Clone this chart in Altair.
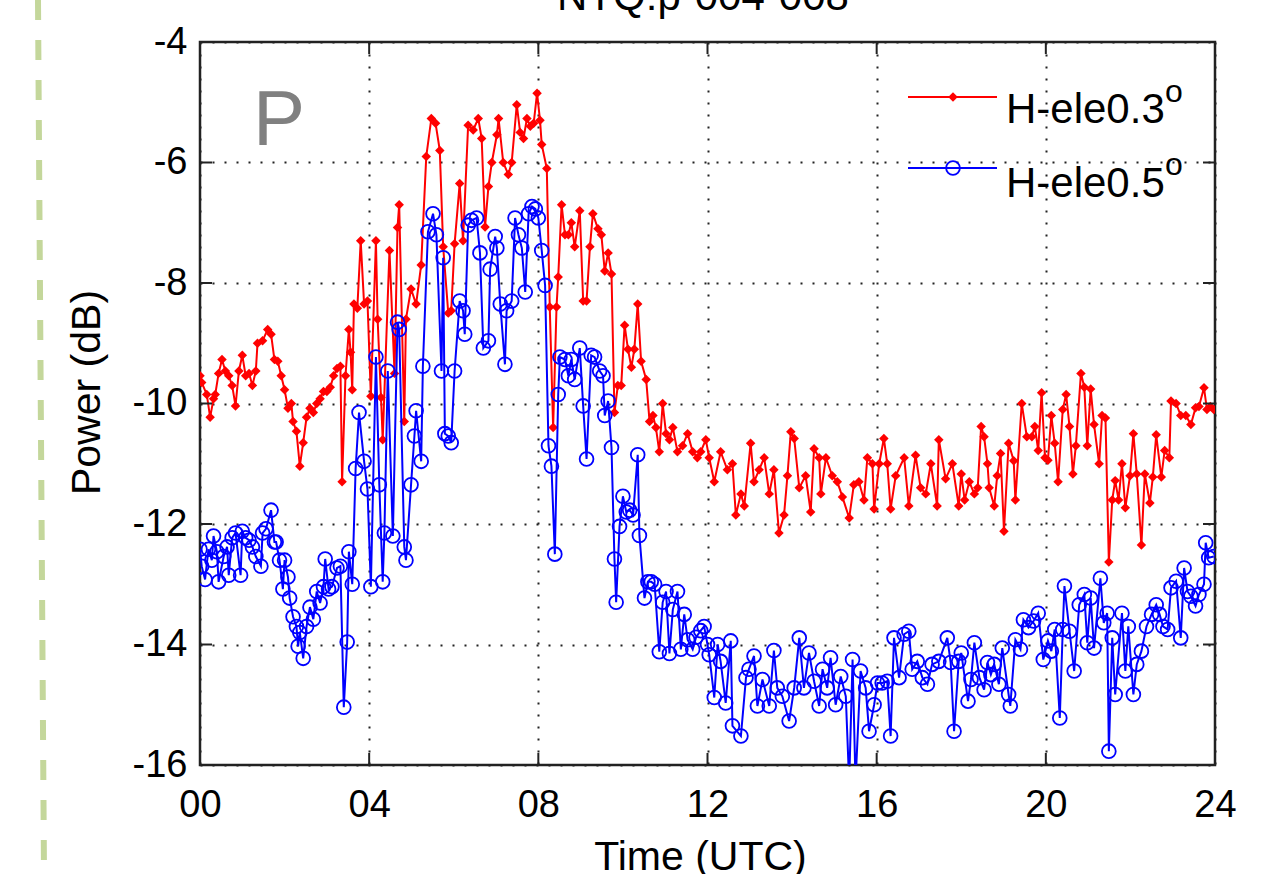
import altair as alt
import pandas as pd

# ---------------- data (hour UTC, power dB) ----------------
red_points = [
    (0.0, -9.54), (0.04, -9.65), (0.16, -9.85), (0.24, -10.23), (0.32, -9.92), (0.36, -9.85), (0.44, -9.5),
    (0.52, -9.27), (0.6, -9.46), (0.68, -9.54), (0.76, -9.7), (0.84, -10.04), (0.92, -9.46), (1.0, -9.2),
    (1.08, -9.54), (1.16, -9.5), (1.24, -9.7), (1.32, -9.46), (1.36, -9.0), (1.48, -8.96), (1.6, -8.77),
    (1.68, -8.85), (1.76, -9.27), (1.84, -9.3), (1.92, -9.54), (2.0, -9.77), (2.08, -10.08), (2.16, -10.0),
    (2.2, -10.3), (2.28, -10.46), (2.36, -11.04), (2.44, -10.65), (2.52, -10.23), (2.6, -10.08), (2.68, -10.15),
    (2.76, -10.0), (2.84, -9.92), (2.92, -9.8), (3.0, -9.8), (3.08, -9.73), (3.16, -9.54), (3.24, -9.42),
    (3.32, -9.38), (3.36, -11.3), (3.44, -9.54), (3.52, -8.77), (3.56, -9.15), (3.6, -9.77), (3.64, -8.35),
    (3.72, -8.42), (3.8, -7.3), (3.88, -8.35), (3.96, -8.3), (4.04, -9.88),
    (4.16, -7.3), (4.2, -8.6), (4.28, -9.9), (4.32, -10.6), (4.48, -7.46), (4.6, -9.5), (4.67, -7.08),
    (4.71, -6.7), (4.83, -10.3), (4.87, -8.6), (4.99, -8.1), (5.11, -8.35), (5.23, -7.7), (5.35, -5.9),
    (5.47, -5.27), (5.57, -5.35), (5.67, -5.8), (5.75, -7.4), (5.87, -8.5), (5.94, -8.46), (6.02, -7.35),
    (6.14, -6.35), (6.22, -7.3), (6.34, -5.38), (6.46, -5.46), (6.58, -5.27), (6.66, -5.6), (6.74, -7.07),
    (6.82, -6.4), (6.9, -6.0), (7.02, -5.54), (7.06, -5.27), (7.17, -6.0), (7.29, -6.2), (7.37, -6.0),
    (7.49, -5.04), (7.57, -5.5), (7.65, -5.6), (7.73, -5.27), (7.81, -5.4), (7.89, -5.35), (7.97, -4.85),
    (8.04, -5.3), (8.08, -5.7), (8.2, -6.1), (8.27, -8.4), (8.35, -10.4), (8.43, -8.4), (8.47, -7.9),
    (8.55, -6.7), (8.63, -7.2), (8.71, -7.2), (8.78, -7.0), (8.86, -7.4), (8.98, -6.8), (9.06, -8.3),
    (9.14, -8.3), (9.22, -7.4), (9.29, -6.85), (9.41, -7.1), (9.49, -7.2), (9.57, -7.8), (9.65, -7.5),
    (9.73, -7.85), (9.8, -10.15), (9.88, -9.7), (9.96, -9.7), (10.04, -8.7), (10.12, -9.1), (10.2, -9.4),
    (10.27, -9.1), (10.35, -8.35), (10.43, -9.3), (10.55, -9.6), (10.63, -10.3), (10.71, -10.2), (10.78, -10.4),
    (10.86, -10.8), (10.94, -10.0), (11.02, -10.5), (11.1, -10.6), (11.18, -10.4), (11.29, -10.8), (11.41, -10.7),
    (11.53, -10.5), (11.65, -10.8), (11.76, -10.9), (11.84, -10.8), (11.96, -10.6),
    (12.04, -10.9), (12.16, -11.3), (12.31, -10.8), (12.47, -11.1), (12.59, -11.0), (12.67, -11.85), (12.79, -11.5),
    (12.87, -11.7), (13.02, -10.66), (13.1, -11.3), (13.22, -11.1), (13.34, -10.9), (13.46, -11.5), (13.57, -11.1),
    (13.69, -12.15), (13.81, -11.85), (13.89, -11.2), (13.97, -10.47), (14.05, -10.58), (14.17, -11.4), (14.32, -11.2),
    (14.44, -11.8), (14.52, -10.75), (14.64, -10.9), (14.68, -11.5), (14.8, -10.9), (14.95, -11.2), (15.07, -11.3),
    (15.19, -11.55), (15.35, -11.9), (15.46, -11.35), (15.58, -11.3), (15.7, -11.6), (15.78, -10.9), (15.9, -11.0),
    (15.94, -11.75), (16.06, -11.0), (16.17, -10.58), (16.25, -11.0), (16.33, -11.75), (16.45, -11.2), (16.65, -10.9),
    (16.76, -11.7), (16.92, -10.86), (17.04, -11.4), (17.16, -11.5), (17.28, -11.0), (17.43, -11.7), (17.47, -10.6),
    (17.63, -11.25), (17.79, -11.0), (17.94, -11.7),
    (18.0, -11.17), (18.08, -11.6), (18.19, -11.3), (18.31, -11.5), (18.39, -11.4), (18.47, -10.38), (18.54, -10.55),
    (18.62, -11.0), (18.66, -11.4), (18.78, -11.7), (18.85, -11.2), (18.93, -10.83), (19.01, -12.12), (19.12, -10.66),
    (19.24, -10.95), (19.28, -11.6), (19.43, -10.0), (19.55, -10.55), (19.67, -10.55), (19.74, -10.38), (19.82, -10.78),
    (19.9, -9.82), (19.98, -10.9), (20.05, -10.94), (20.13, -10.2), (20.21, -10.66), (20.29, -11.3), (20.4, -10.1),
    (20.48, -9.85), (20.56, -10.38), (20.64, -11.17), (20.71, -10.7), (20.83, -9.5), (20.91, -9.73), (20.98, -10.7),
    (21.06, -9.76), (21.14, -10.35), (21.26, -11.0), (21.33, -10.2), (21.41, -10.24), (21.49, -12.63), (21.57, -11.6),
    (21.64, -11.28), (21.72, -11.6), (21.8, -11.0), (21.88, -11.73), (21.99, -11.2), (22.07, -10.5), (22.15, -11.17),
    (22.26, -12.35), (22.34, -11.17), (22.46, -11.65), (22.53, -11.22), (22.61, -10.52), (22.73, -11.22), (22.81, -10.78),
    (22.92, -10.9), (22.96, -9.96), (23.08, -10.0), (23.19, -10.2), (23.31, -10.2), (23.43, -10.35), (23.54, -10.07),
    (23.62, -10.05), (23.74, -9.74), (23.81, -10.1), (23.89, -10.05), (23.97, -10.1),
]

blue_points = [
    (0.0, -12.42), (0.04, -12.7), (0.12, -12.92), (0.2, -12.42), (0.28, -12.6), (0.32, -12.2), (0.4, -12.46),
    (0.44, -12.96), (0.56, -12.54), (0.64, -12.38), (0.68, -12.85), (0.76, -12.23), (0.84, -12.15), (0.96, -12.85),
    (1.0, -12.12), (1.08, -12.23), (1.16, -12.27), (1.24, -12.38), (1.32, -12.54), (1.44, -12.7), (1.48, -12.15),
    (1.56, -12.08), (1.68, -11.77), (1.76, -12.3), (1.8, -12.3), (1.88, -12.6), (1.96, -13.08), (2.0, -12.6),
    (2.08, -12.88), (2.12, -13.23), (2.2, -13.54), (2.28, -13.7), (2.32, -14.03), (2.36, -13.8), (2.44, -14.23),
    (2.52, -13.7), (2.6, -13.38), (2.68, -13.58), (2.76, -13.12), (2.84, -13.31), (2.92, -13.04), (2.96, -12.58),
    (3.04, -13.08), (3.12, -13.04), (3.24, -12.73), (3.32, -12.7), (3.4, -15.04), (3.48, -13.96), (3.52, -12.46),
    (3.6, -13.0), (3.68, -11.08), (3.76, -10.15), (3.88, -10.96), (3.96, -11.42), (4.04, -13.04),
    (4.16, -9.23), (4.24, -11.35), (4.32, -12.96), (4.36, -12.15), (4.44, -9.46), (4.56, -12.2), (4.67, -8.65),
    (4.71, -8.77), (4.83, -12.38), (4.87, -12.6), (4.99, -11.35), (5.07, -10.54), (5.11, -10.12), (5.23, -10.96),
    (5.27, -9.38), (5.39, -7.15), (5.51, -6.85), (5.59, -7.2), (5.71, -9.46), (5.75, -7.58), (5.79, -10.5),
    (5.87, -10.54), (5.94, -10.65), (6.02, -9.46), (6.14, -8.3), (6.22, -8.46), (6.26, -8.85), (6.34, -7.04),
    (6.42, -6.96), (6.54, -6.92), (6.62, -7.5), (6.7, -9.08), (6.82, -8.96), (6.86, -7.77), (6.98, -7.23),
    (7.02, -7.42), (7.1, -8.35), (7.21, -9.35), (7.25, -8.46), (7.37, -8.3), (7.45, -6.92), (7.53, -7.2),
    (7.61, -7.42), (7.69, -8.15), (7.77, -6.85), (7.85, -6.73), (7.93, -6.77), (8.0, -6.92),
    (8.08, -7.46), (8.16, -8.04), (8.24, -10.7), (8.31, -11.04), (8.39, -12.5), (8.47, -9.85), (8.51, -9.23),
    (8.63, -9.27), (8.71, -9.54), (8.78, -9.27), (8.86, -9.6), (8.98, -9.08), (9.06, -10.04), (9.14, -10.92),
    (9.25, -9.2), (9.33, -9.23), (9.45, -9.46), (9.53, -9.54), (9.57, -10.2), (9.65, -9.96), (9.73, -10.73),
    (9.8, -12.58), (9.84, -13.3), (9.92, -12.04), (10.0, -11.54), (10.08, -11.8), (10.16, -11.77), (10.24, -11.85),
    (10.35, -10.85), (10.39, -12.19), (10.51, -13.23), (10.59, -12.96), (10.67, -12.96), (10.75, -13.0), (10.86, -14.12),
    (10.94, -13.3), (11.02, -13.12), (11.1, -14.15), (11.18, -13.42), (11.29, -13.12), (11.37, -14.08), (11.45, -13.5),
    (11.53, -13.92), (11.65, -14.08), (11.73, -13.88), (11.84, -13.77), (11.92, -13.7), (12.0, -14.0),
    (12.04, -14.17), (12.16, -14.88), (12.24, -14.0), (12.31, -14.28), (12.43, -14.97), (12.55, -13.94), (12.59, -15.35),
    (12.79, -15.52), (12.91, -14.55), (12.98, -14.41), (13.1, -14.19), (13.18, -15.02), (13.3, -14.58), (13.46, -15.02),
    (13.57, -14.1), (13.65, -14.72), (13.77, -14.86), (13.93, -15.27), (14.05, -14.72), (14.17, -13.89), (14.28, -14.72),
    (14.4, -14.14), (14.52, -14.61), (14.64, -15.02), (14.72, -14.41), (14.83, -14.72), (14.91, -14.22), (15.03, -15.0),
    (15.15, -14.53), (15.27, -14.86), (15.35, -16.3), (15.43, -14.25), (15.5, -16.3), (15.62, -14.44), (15.74, -14.72),
    (15.82, -15.44), (15.94, -15.0), (16.02, -14.64), (16.13, -14.64), (16.25, -14.61), (16.33, -15.52), (16.41, -13.89),
    (16.53, -14.55), (16.65, -13.83), (16.76, -13.78), (16.84, -14.41), (16.96, -14.28), (17.08, -14.55), (17.2, -14.66),
    (17.31, -14.33), (17.47, -14.28), (17.67, -13.89), (17.75, -14.3), (17.83, -15.44), (17.94, -14.28),
    (18.0, -14.14), (18.16, -14.94), (18.23, -14.58), (18.31, -13.97), (18.43, -14.55), (18.54, -14.75), (18.62, -14.3),
    (18.7, -14.5), (18.78, -14.33), (18.89, -14.66), (18.97, -14.06), (19.12, -14.83), (19.16, -15.02), (19.28, -13.92),
    (19.4, -14.08), (19.47, -13.59), (19.59, -13.72), (19.71, -13.61), (19.82, -13.48), (19.94, -14.25), (20.05, -13.94),
    (20.13, -14.11), (20.21, -13.75), (20.33, -15.22), (20.4, -13.75), (20.44, -13.03), (20.56, -13.78), (20.67, -14.44),
    (20.79, -13.34), (20.91, -13.17), (20.98, -13.97), (21.06, -13.23), (21.14, -14.06), (21.29, -12.9), (21.37, -13.64),
    (21.45, -13.48), (21.49, -15.77), (21.57, -13.89), (21.64, -14.83), (21.8, -13.48), (21.88, -14.44), (21.95, -13.7),
    (22.07, -14.83), (22.15, -14.33), (22.26, -14.11), (22.38, -13.7), (22.5, -13.5), (22.61, -13.34), (22.69, -13.5),
    (22.77, -13.7), (22.88, -13.75), (22.96, -13.06), (23.08, -12.95), (23.19, -13.89), (23.27, -12.73), (23.35, -13.12),
    (23.43, -13.2), (23.54, -13.36), (23.62, -13.17), (23.74, -13.0), (23.78, -12.31), (23.85, -12.56), (23.97, -12.54),
]

x_ticks = [0, 4, 8, 12, 16, 20, 24]
y_ticks = [-16, -14, -12, -10, -8, -6, -4]
series_names = ["H-ele0.3", "H-ele0.5"]
chart_title = "NTQ:p-004-008"
panel_letter = "P"

# ---------------- build ----------------
red = pd.DataFrame(red_points, columns=["hour", "power"])
blue = pd.DataFrame(blue_points, columns=["hour", "power"])
xt = pd.DataFrame({"hour": x_ticks})
yt = pd.DataFrame({"power": y_ticks})
one = pd.DataFrame({"k": [0]})

W, H = 1015, 723
FONT = "Liberation Sans"
xscale = alt.Scale(domain=[0, 24], nice=False, zero=False)
yscale = alt.Scale(domain=[-16, -4], nice=False, zero=False)

x_axis = alt.Axis(
    values=x_ticks,
    labelExpr="datum.value < 10 ? '0' + datum.value : '' + datum.value",
    grid=True, gridDash=[2, 10], gridColor="#222222", gridWidth=2,
    tickSize=0, domain=False, labelFontSize=38, labelPadding=21, labelColor="black",
    labelFont=FONT, labelFlush=False,
    title="Time (UTC)", titleFontSize=41, titleFontWeight="normal", titleFont=FONT,
    titleColor="black", titleX=500, titleY=104, titleBaseline="alphabetic",
)
y_axis = alt.Axis(
    values=y_ticks,
    labelExpr="'' + datum.value",
    grid=True, gridDash=[2, 10], gridColor="#222222", gridWidth=2,
    tickSize=0, domain=False, labelFontSize=38, labelPadding=13, labelColor="black",
    labelFont=FONT, labelFlush=False,
    title="Power (dB)", titleFontSize=41, titleFontWeight="normal", titleFont=FONT,
    titleColor="black", titleX=-101, titleY=350, titleBaseline="alphabetic", titleAngle=270,
)

base_red = alt.Chart(red).encode(
    x=alt.X("hour:Q", scale=xscale, axis=x_axis),
    y=alt.Y("power:Q", scale=yscale, axis=y_axis),
)
red_line = base_red.mark_line(color="#ff0000", strokeWidth=2, clip=True)
red_pts = base_red.mark_point(shape="diamond", filled=True, color="#ff0000", size=90, opacity=1, clip=True)

base_blue = alt.Chart(blue).encode(
    x=alt.X("hour:Q", scale=xscale),
    y=alt.Y("power:Q", scale=yscale),
)
blue_line = base_blue.mark_line(color="#0000ff", strokeWidth=2, clip=True)
blue_pts = base_blue.mark_point(shape="circle", filled=False, color="#0000ff", size=190,
                                strokeWidth=1.8, opacity=1, clip=True)

# inward ticks on all four sides
tick_col = "#222222"
xt_bottom = alt.Chart(xt).mark_rule(color=tick_col, strokeWidth=2).encode(
    x=alt.X("hour:Q", scale=xscale), y=alt.value(H), y2=alt.value(H - 12))
xt_top = alt.Chart(xt).mark_rule(color=tick_col, strokeWidth=2).encode(
    x=alt.X("hour:Q", scale=xscale), y=alt.value(0), y2=alt.value(12))
yt_left = alt.Chart(yt).mark_rule(color=tick_col, strokeWidth=2).encode(
    y=alt.Y("power:Q", scale=yscale), x=alt.value(0), x2=alt.value(12))
yt_right = alt.Chart(yt).mark_rule(color=tick_col, strokeWidth=2).encode(
    y=alt.Y("power:Q", scale=yscale), x=alt.value(W - 12), x2=alt.value(W))

# legend (manual, MATLAB style)
leg_red_line = alt.Chart(one).mark_rule(color="#ff0000", strokeWidth=2).encode(
    x=alt.value(708), x2=alt.value(797), y=alt.value(55))
leg_red_pt = alt.Chart(one).mark_point(shape="diamond", filled=True, color="#ff0000", size=90, opacity=1).encode(
    x=alt.value(753), y=alt.value(55))
leg_red_txt = alt.Chart(one).mark_text(text=series_names[0], font=FONT, fontSize=42, align="left",
                                       baseline="alphabetic", color="black").encode(
    x=alt.value(806), y=alt.value(81))
leg_red_sup = alt.Chart(one).mark_text(text="o", font=FONT, fontSize=32, align="left",
                                       baseline="alphabetic", color="black").encode(
    x=alt.value(965), y=alt.value(60))
leg_blue_line = alt.Chart(one).mark_rule(color="#0000ff", strokeWidth=2).encode(
    x=alt.value(708), x2=alt.value(797), y=alt.value(126))
leg_blue_pt = alt.Chart(one).mark_point(shape="circle", filled=False, color="#0000ff", size=190,
                                        strokeWidth=1.8, opacity=1).encode(
    x=alt.value(753), y=alt.value(126))
leg_blue_txt = alt.Chart(one).mark_text(text=series_names[1], font=FONT, fontSize=42, align="left",
                                        baseline="alphabetic", color="black").encode(
    x=alt.value(806), y=alt.value(155))
leg_blue_sup = alt.Chart(one).mark_text(text="o", font=FONT, fontSize=32, align="left",
                                        baseline="alphabetic", color="black").encode(
    x=alt.value(965), y=alt.value(133))

# panel letter, clipped title, decorative dashed line on the left
letter = alt.Chart(one).mark_text(text=panel_letter, font=FONT, fontSize=78, align="left",
                                  baseline="alphabetic", color="#808080").encode(
    x=alt.value(53), y=alt.value(103))
title_txt = alt.Chart(one).mark_text(text=chart_title, font=FONT, fontSize=42, align="center",
                                     baseline="alphabetic", color="black").encode(
    x=alt.value(503), y=alt.value(-32))
green_dash = alt.Chart(one).mark_rule(color="#c4d79b", strokeWidth=6, strokeDash=[20, 20]).encode(
    x=alt.value(-162), x2=alt.value(-156), y=alt.value(-42), y2=alt.value(832))

chart = alt.layer(
    red_line, red_pts, blue_line, blue_pts,
    xt_bottom, xt_top, yt_left, yt_right,
    leg_red_line, leg_red_pt, leg_red_txt, leg_red_sup,
    leg_blue_line, leg_blue_pt, leg_blue_txt, leg_blue_sup,
    letter, title_txt, green_dash,
).properties(
    width=W, height=H,
    autosize=alt.AutoSizeParams(type="none"),
    padding={"left": 200, "top": 42, "right": 53, "bottom": 109},
    background="white",
).configure_view(
    stroke="#222222", strokeWidth=2.5,
).configure_axis(
    labelFont=FONT, titleFont=FONT,
)

chart.save("out.html", embed_options={"renderer": "svg", "actions": False})
